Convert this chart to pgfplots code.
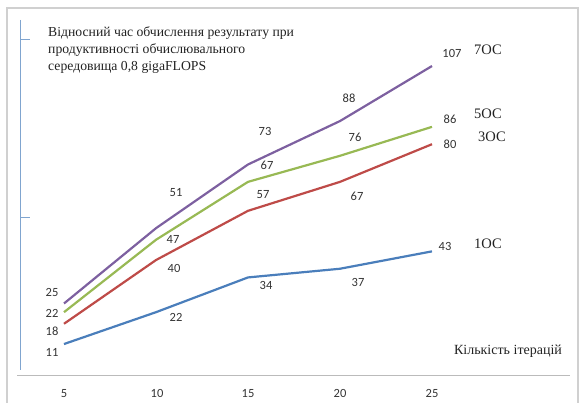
\documentclass[border=0pt]{standalone}
\usepackage{fontspec}
\setmainfont{Liberation Serif}
\newfontfamily\calibri{Carlito}
\usepackage{pgfplots}
\pgfplotsset{compat=1.18}
\definecolor{s1}{HTML}{4A7EBB}
\definecolor{s3}{HTML}{BE4B48}
\definecolor{s5}{HTML}{98B954}
\definecolor{s7}{HTML}{7D60A0}
\definecolor{frame}{HTML}{D0D0D0}
\definecolor{lab}{HTML}{333333}
\definecolor{txt}{HTML}{222222}
\newcommand\px[2]{([shift={(#1pt,-#2pt)}]tl)}
\begin{document}
\begin{tikzpicture}
\begin{axis}[
  scale only axis, width=579pt, height=403pt,
  xmin=1.5217, xmax=32.989, ymin=-9.358, ymax=129.80,
  hide axis, clip=false,
]
\addplot[s1, line width=2.2pt] coordinates {(5,11)(10,22)(15,34)(20,37)(25,43)};
\addplot[s3, line width=2.2pt] coordinates {(5,18)(10,40)(15,57)(20,67)(25,80)};
\addplot[s5, line width=2.2pt] coordinates {(5,22)(10,47)(15,67)(20,76)(25,86)};
\addplot[s7, line width=2.2pt] coordinates {(5,25)(10,51)(15,73)(20,88)(25,107)};
\coordinate (tl) at (rel axis cs:0,1);
\coordinate (br) at (rel axis cs:1,0);
\end{axis}
% frame
\draw[frame, line width=1.2pt] \px{7}{403} -- \px{7}{8} -- \px{578}{8} -- \px{578}{403};
% y axis line and ticks
\draw[s1!70, line width=1pt] \px{20}{20} -- \px{20}{370};
\draw[s1!70, line width=1pt] \px{20}{40} -- \px{30}{40};
\draw[s1!70, line width=1pt] \px{20}{218} -- \px{30}{218};
% x axis line
\draw[frame!90!black, line width=1pt] \px{17}{376} -- \px{570}{376};
% x tick labels
\begin{scope}[every node/.style={font=\calibri\fontsize{12.5}{14}\selectfont, text=lab, anchor=base}]
\node at \px{64}{398} {5};
\node at \px{157}{398} {10};
\node at \px{248}{398} {15};
\node at \px{340}{398} {20};
\node at \px{432}{398} {25};
\end{scope}
% data labels
\begin{scope}[every node/.style={font=\calibri\fontsize{12.5}{14}\selectfont, text=lab, anchor=center, inner sep=0pt}]
\node at \px{52}{292} {25};
\node at \px{176}{193} {51};
\node at \px{265}{131} {73};
\node at \px{349}{98} {88};
\node at \px{452}{53} {107};
\node at \px{52}{313} {22};
\node at \px{173}{239} {47};
\node at \px{267}{165} {67};
\node at \px{355}{137} {76};
\node at \px{450}{119} {86};
\node at \px{52}{331} {18};
\node at \px{174}{268} {40};
\node at \px{263}{195} {57};
\node at \px{357}{196} {67};
\node at \px{450}{144} {80};
\node at \px{52}{352} {11};
\node at \px{176}{317} {22};
\node at \px{266}{285} {34};
\node at \px{358}{282} {37};
\node at \px{445}{246} {43};
\end{scope}
% series names
\begin{scope}[every node/.style={font=\fontsize{14.5}{16}\selectfont, text=txt, anchor=center, inner sep=0pt}]
\node at \px{488}{50} {7ОС};
\node at \px{488}{114} {5ОС};
\node at \px{492}{137} {3ОС};
\node at \px{488}{244} {1ОС};
\end{scope}
% axis title
\node[font=\fontsize{14}{16}\selectfont, text=txt, anchor=center, inner sep=0pt] at \px{508}{351} {Кількість ітерацій};
% chart title
\begin{scope}[every node/.style={font=\fontsize{13.7}{16}\selectfont, text=txt, anchor=base west, inner sep=0pt}]
\node at \px{48}{36.5} {Відносний час обчислення результату при};
\node at \px{48}{53.5} {продуктивності обчислювального};
\node at \px{48}{70.5} {середовища 0,8 gigaFLOPS};
\end{scope}
\pgfresetboundingbox
\useasboundingbox (tl) rectangle (br);
\end{tikzpicture}
\end{document}
